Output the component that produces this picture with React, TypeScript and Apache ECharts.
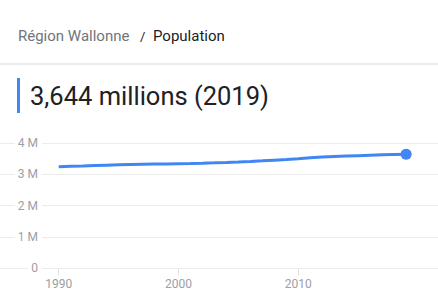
import React, { useEffect, useRef } from "react";
import * as echarts from "echarts";

const years: number[] = [
  1990, 1991, 1992, 1993, 1994, 1995, 1996, 1997, 1998, 1999,
  2000, 2001, 2002, 2003, 2004, 2005, 2006, 2007, 2008, 2009,
  2010, 2011, 2012, 2013, 2014, 2015, 2016, 2017, 2018, 2019,
];
const populationMillions: number[] = [
  3.244, 3.256, 3.268, 3.281, 3.293, 3.304, 3.313, 3.321, 3.327, 3.333,
  3.340, 3.347, 3.356, 3.366, 3.378, 3.392, 3.410, 3.430, 3.452, 3.474,
  3.498, 3.530, 3.552, 3.569, 3.583, 3.596, 3.609, 3.621, 3.633, 3.644,
];
const xTickYears: number[] = [1990, 2000, 2010];
const breadcrumbRegion = "Région Wallonne";
const breadcrumbTopic = "Population";
const headline = "3,644 millions (2019)";

export default function App() {
  const ref = useRef<HTMLDivElement>(null);
  useEffect(() => {
    if (!ref.current) return;
    const chart = echarts.init(ref.current, null, { renderer: "svg" });
    const blue = "#4285F4";
    chart.setOption({
      animation: false,
      backgroundColor: "#ffffff",
      textStyle: { fontFamily: "Roboto" },
      graphic: [
        {
          type: "text",
          x: 18,
          y: 36,
          style: {
            text: breadcrumbRegion,
            fill: "#70757a",
            font: "15px Roboto",
            verticalAlign: "middle",
          },
        },
        {
          type: "text",
          x: 140,
          y: 36,
          style: {
            text: "/",
            fill: "#202124",
            font: "13px Roboto",
            verticalAlign: "middle",
          },
        },
        {
          type: "text",
          x: 153,
          y: 36,
          style: {
            text: breadcrumbTopic,
            fill: "#202124",
            font: "15px Roboto",
            verticalAlign: "middle",
          },
        },
        {
          type: "rect",
          shape: { x: 0, y: 63, width: 438, height: 2 },
          style: { fill: "#ebebeb" },
        },
        {
          type: "rect",
          shape: { x: 17, y: 78, width: 3, height: 35 },
          style: { fill: blue },
        },
        {
          type: "text",
          x: 30,
          y: 96,
          style: {
            text: headline,
            fill: "#202124",
            font: "25.5px Roboto",
            verticalAlign: "middle",
          },
        },
      ],
      grid: { left: 0, right: 0, top: 143, bottom: 31.7, containLabel: false },
      xAxis: {
        type: "value",
        min: 1985.1,
        max: 2021.66,
        axisLine: { show: false },
        splitLine: { show: false },
        axisTick: {
          show: true,
          length: 7,
          lineStyle: { color: "#e0e0e0" },
          customValues: xTickYears,
        },
        axisLabel: {
          customValues: xTickYears,
          color: "#9aa0a6",
          fontSize: 12,
          fontFamily: "Roboto",
          margin: 10,
          formatter: (v: number) => String(v),
        },
      },
      yAxis: {
        type: "value",
        min: 0,
        max: 4,
        interval: 1,
        axisLine: { show: false },
        axisTick: { show: false },
        splitLine: { lineStyle: { color: "#ececec", width: 1 } },
        axisLabel: {
          inside: true,
          align: "right",
          margin: 42,
          color: "#9aa0a6",
          fontSize: 12,
          fontFamily: "Roboto",
          backgroundColor: "#ffffff",
          padding: [0, 4, 0, 3],
          formatter: (v: number) => (v === 0 ? "0" : `${v} M`),
        },
        z: 1,
      },
      series: [
        {
          type: "line",
          data: years.map((y, i) => [y, populationMillions[i]]),
          lineStyle: { color: blue, width: 3 },
          itemStyle: { color: blue },
          symbol: "circle",
          symbolSize: (_v: any, p: any) => (p.dataIndex === years.length - 1 ? 11 : 0),
          showSymbol: true,
          z: 3,
        },
      ],
    });
    return () => chart.dispose();
  }, []);
  return (
    <div
      ref={ref}
      style={{ position: "fixed", left: 0, top: 0, width: 438, height: 300 }}
    />
  );
}
